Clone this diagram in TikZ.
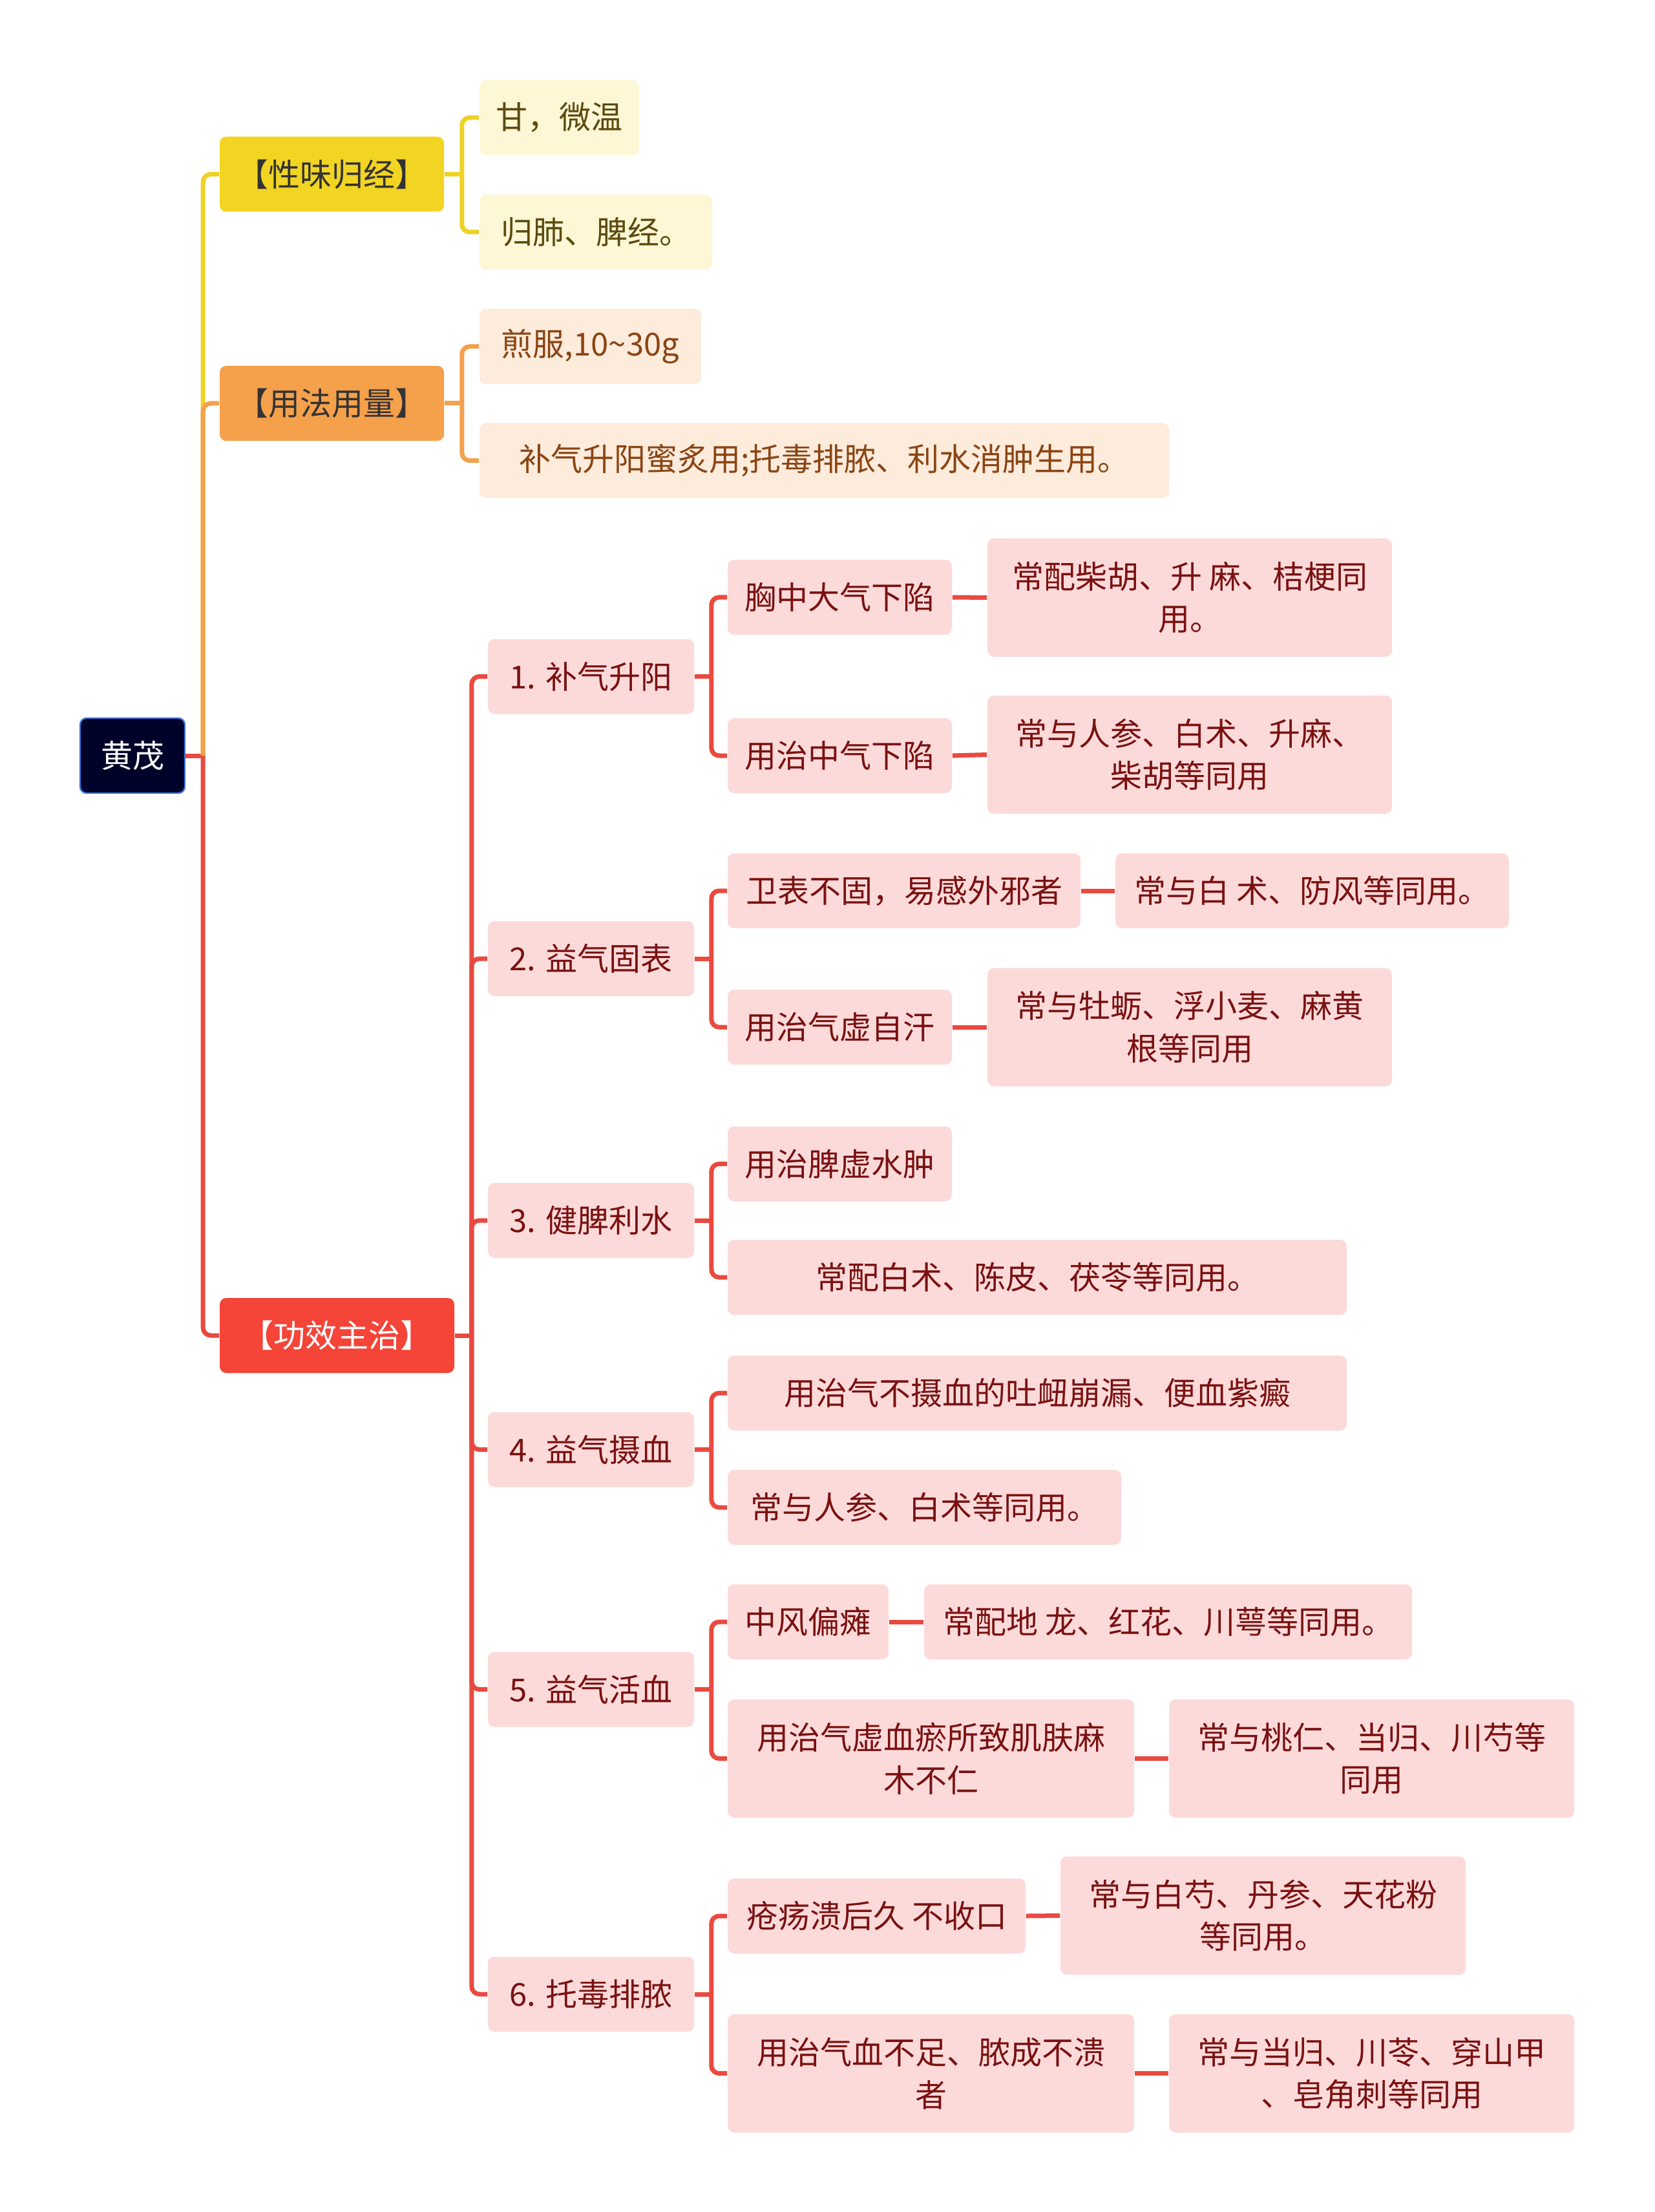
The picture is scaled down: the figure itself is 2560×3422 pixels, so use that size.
\documentclass[tikz,border=0pt]{standalone}
\usepackage{fontspec}
\setmainfont{Noto Sans CJK SC}

\definecolor{ylwA}{HTML}{F2D422}
\definecolor{ylwB}{HTML}{FDF7D6}
\definecolor{ylwT}{HTML}{5C4B0E}
\definecolor{ylwL}{HTML}{EED225}
\definecolor{orgA}{HTML}{F5A04B}
\definecolor{orgB}{HTML}{FDEBDC}
\definecolor{orgT}{HTML}{8A4513}
\definecolor{orgL}{HTML}{F2A14D}
\definecolor{redA}{HTML}{F54438}
\definecolor{redB}{HTML}{FDDADA}
\definecolor{redT}{HTML}{7A1111}
\definecolor{redL}{HTML}{E94A40}
\definecolor{rootA}{HTML}{000229}
\definecolor{rootE}{HTML}{3C74D8}

\tikzset{
  box/.style={rounded corners=2.5pt,inner sep=0pt,align=center,minimum height=29pt,
    font=\fontsize{12.25}{16.4}\selectfont},
  tall/.style={minimum height=45.75pt},
  rootbox/.style={box,fill=rootA,draw=rootE,line width=0.6pt,text=white},
  ylwcat/.style={box,fill=ylwA,text=black!80,minimum width=86.75pt},
  orgcat/.style={box,fill=orgA,text=black!80,minimum width=86.75pt},
  redcat/.style={box,fill=redA,text=white,minimum width=90.75pt},
  ylwleaf/.style={box,fill=ylwB,text=ylwT},
  orgleaf/.style={box,fill=orgB,text=orgT},
  redleaf/.style={box,fill=redB,text=redT},
  numbox/.style={redleaf,minimum width=79.75pt},
  ylwline/.style={draw=ylwL,line width=1.75pt,rounded corners=3pt},
  orgline/.style={draw=orgL,line width=1.75pt,rounded corners=3pt},
  redline/.style={draw=redL,line width=1.75pt,rounded corners=3pt}
}

\begin{document}
\begin{tikzpicture}[x=0.25pt,y=-0.25pt]
	\useasboundingbox (0,0) rectangle (2560,3422);

	\node[rootbox,minimum width=40.5pt] (root) at (205,1169) {黄茂};

	\node[ylwcat] (xw) at (513.5,269.5) {【性味归经】};
	\node[ylwleaf,minimum width=61.75pt] (xw1) at (865.5,182) {甘，微温};
	\node[ylwleaf,minimum width=90pt] (xw2) at (922,359) {归肺、脾经。};

	\node[orgcat] (yf) at (513.5,624) {【用法用量】};
	\node[orgleaf,minimum width=85.75pt] (yf1) at (913.5,536) {煎服,10\textasciitilde30g};
	\node[orgleaf,minimum width=266.75pt] (yf2) at (1275.5,712.5) {补气升阳蜜炙用;托毒排脓、利水消肿生用。};

	\node[redcat] (gx) at (521.5,2066) {【功效主治】};

	\node[numbox] (a) at (914.5,1046.5) {1. 补气升阳};
	\node[redleaf,minimum width=86.75pt] (a1) at (1299.5,924) {胸中大气下陷};
	\node[redleaf,tall,minimum width=156.5pt] (a1x) at (1841,924.5) {常配柴胡、升 麻、桔梗同\\用。};
	\node[redleaf,minimum width=86.75pt] (a2) at (1299.5,1169) {用治中气下陷};
	\node[redleaf,tall,minimum width=156.5pt] (a2x) at (1841,1167.5) {常与人参、白术、升麻、\\柴胡等同用};

	\node[numbox] (b) at (914.5,1483) {2. 益气固表};
	\node[redleaf,minimum width=136.5pt] (b1) at (1399,1378) {卫表不固，易感外邪者};
	\node[redleaf,minimum width=152.25pt] (b1x) at (2030.5,1378) {常与白 术、防风等同用。};
	\node[redleaf,minimum width=86.75pt] (b2) at (1299.5,1589) {用治气虚自汗};
	\node[redleaf,tall,minimum width=156.5pt] (b2x) at (1841,1589) {常与牡蛎、浮小麦、麻黄\\根等同用};

	\node[numbox] (c) at (914.5,1888) {3. 健脾利水};
	\node[redleaf,minimum width=86.75pt] (c1) at (1299.5,1800.5) {用治脾虚水肿};
	\node[redleaf,minimum width=239.5pt] (c2) at (1605,1976) {常配白术、陈皮、茯苓等同用。};

	\node[numbox] (d) at (914.5,2242.5) {4. 益气摄血};
	\node[redleaf,minimum width=239.5pt] (d1) at (1605,2155) {用治气不摄血的吐衄崩漏、便血紫癜};
	\node[redleaf,minimum width=152.25pt] (d2) at (1430.5,2332) {常与人参、白术等同用。};

	\node[numbox] (e) at (914.5,2613.5) {5. 益气活血};
	\node[redleaf,minimum width=62.25pt] (e1) at (1250.5,2509) {中风偏瘫};
	\node[redleaf,minimum width=188.75pt] (e1x) at (1807.5,2509) {常配地 龙、红花、川萼等同用。};
	\node[redleaf,tall,minimum width=157.25pt] (e2) at (1440.5,2720.5) {用治气虚血瘀所致肌肤麻\\木不仁};
	\node[redleaf,tall,minimum width=156.75pt] (e2x) at (2122.5,2720.5) {常与桃仁、当归、川芍等\\同用};

	\node[numbox] (f) at (914.5,3085) {6. 托毒排脓};
	\node[redleaf,minimum width=115.25pt] (f1) at (1356.5,2964) {疮疡溃后久 不收口};
	\node[redleaf,tall,minimum width=156.75pt] (f1x) at (1954.5,2963.5) {常与白芍、丹参、天花粉\\等同用。};
	\node[redleaf,tall,minimum width=157.25pt] (f2) at (1440.5,3207.5) {用治气血不足、脓成不溃\\者};
	\node[redleaf,tall,minimum width=156.75pt] (f2x) at (2122.5,3207.5) {常与当归、川苓、穿山甲\\、皂角刺等同用};

	% root branches
	\draw[redline] (root.east) -- ++(27,0) coordinate (jr);
	\draw[ylwline] (jr) |- (xw.west);
	\draw[orgline] (jr) |- (yf.west);
	\draw[redline] (jr) |- (gx.west);

	\draw[ylwline] (xw.east) -- ++(27,0) coordinate (jxw);
	\draw[ylwline] (jxw) |- (xw1.west);
	\draw[ylwline] (jxw) |- (xw2.west);

	\draw[orgline] (yf.east) -- ++(27,0) coordinate (jyf);
	\draw[orgline] (jyf) |- (yf1.west);
	\draw[orgline] (jyf) |- (yf2.west);

	\draw[redline] (gx.east) -- ++(26,0) coordinate (jgx);
	\foreach \n in {a,b,c,d,e,f}
		\draw[redline] (jgx) |- (\n.west);

	\foreach \p/\c/\d in {a/a1/a2,b/b1/b2,c/c1/c2,d/d1/d2,e/e1/e2,f/f1/f2}{
		\draw[redline] (\p.east) -- ++(26,0) coordinate (j\p);
		\draw[redline] (j\p) |- (\c.west);
		\draw[redline] (j\p) |- (\d.west);
	}

	% leaves
	\foreach \c in {a1,a2,b1,b2,e1,e2,f1,f2}
		\draw[redline] (\c.east) -- (\c x.west);
\end{tikzpicture}
\end{document}
